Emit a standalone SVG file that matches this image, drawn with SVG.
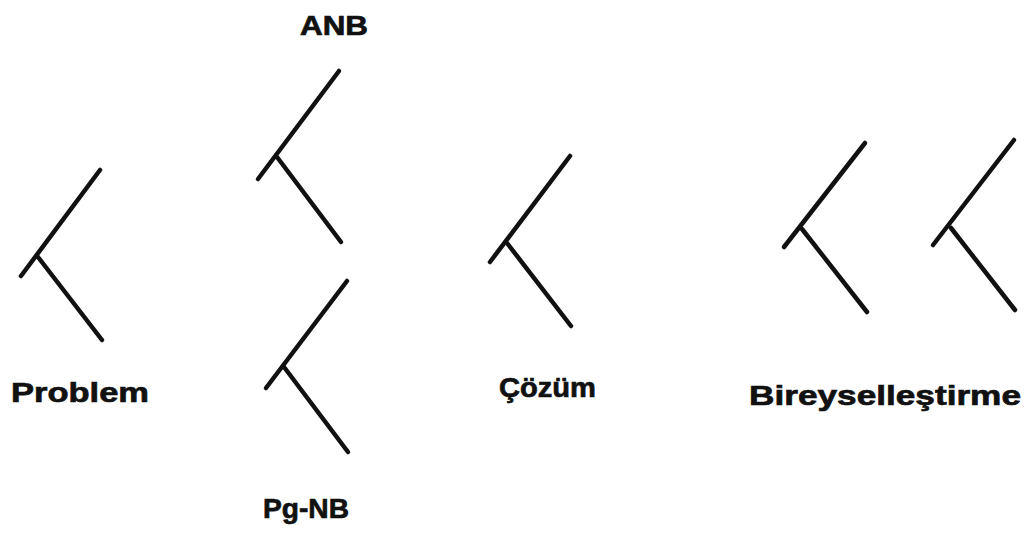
<svg xmlns="http://www.w3.org/2000/svg" width="1030" height="535" viewBox="0 0 1030 535">
<style>
.bg{fill:#ffffff}
.stroke{stroke:#111111;stroke-width:4.5;stroke-linecap:round;fill:none}
.lbl{font-family:"Liberation Sans",Arial,sans-serif;font-weight:bold;font-size:28px;fill:#111111;stroke:#111111;stroke-width:0.7}
</style>
<rect class="bg" x="0" y="0" width="1030" height="535"/>
<g id="connectors">
<g id="problem-shape">
<line class="stroke" x1="100" y1="170" x2="21" y2="276"/>
<line class="stroke" x1="38" y1="257" x2="102" y2="340"/>
</g>
<g id="anb-shape">
<line class="stroke" x1="339" y1="71" x2="258" y2="179"/>
<line class="stroke" x1="277" y1="157" x2="341" y2="242"/>
</g>
<g id="pgnb-shape">
<line class="stroke" x1="347" y1="281" x2="266" y2="388"/>
<line class="stroke" x1="284" y1="367" x2="348" y2="452"/>
</g>
<g id="cozum-shape">
<line class="stroke" x1="570" y1="156" x2="490" y2="262"/>
<line class="stroke" x1="507" y1="243" x2="571" y2="326"/>
</g>
<g id="bir1-shape">
<line class="stroke" x1="865" y1="143" x2="784" y2="247"/>
<line class="stroke" x1="802" y1="229" x2="867" y2="312"/>
</g>
<g id="bir2-shape">
<line class="stroke" x1="1014" y1="140" x2="933" y2="245"/>
<line class="stroke" x1="951" y1="228" x2="1015" y2="310"/>
</g>
</g>
<g id="anb"><text class="lbl" x="300" y="35" textLength="68" lengthAdjust="spacingAndGlyphs">ANB</text></g>
<g id="problem"><text class="lbl" x="11" y="402" textLength="138" lengthAdjust="spacingAndGlyphs">Problem</text></g>
<g id="pgnb"><text class="lbl" x="263" y="518" textLength="86" lengthAdjust="spacingAndGlyphs">Pg-NB</text></g>
<g id="cozum"><text class="lbl" x="499" y="397" textLength="97" lengthAdjust="spacingAndGlyphs">Çözüm</text></g>
<g id="bireysel"><text class="lbl" x="749" y="405" textLength="272" lengthAdjust="spacingAndGlyphs">Bireyselleştirme</text></g>
</svg>
